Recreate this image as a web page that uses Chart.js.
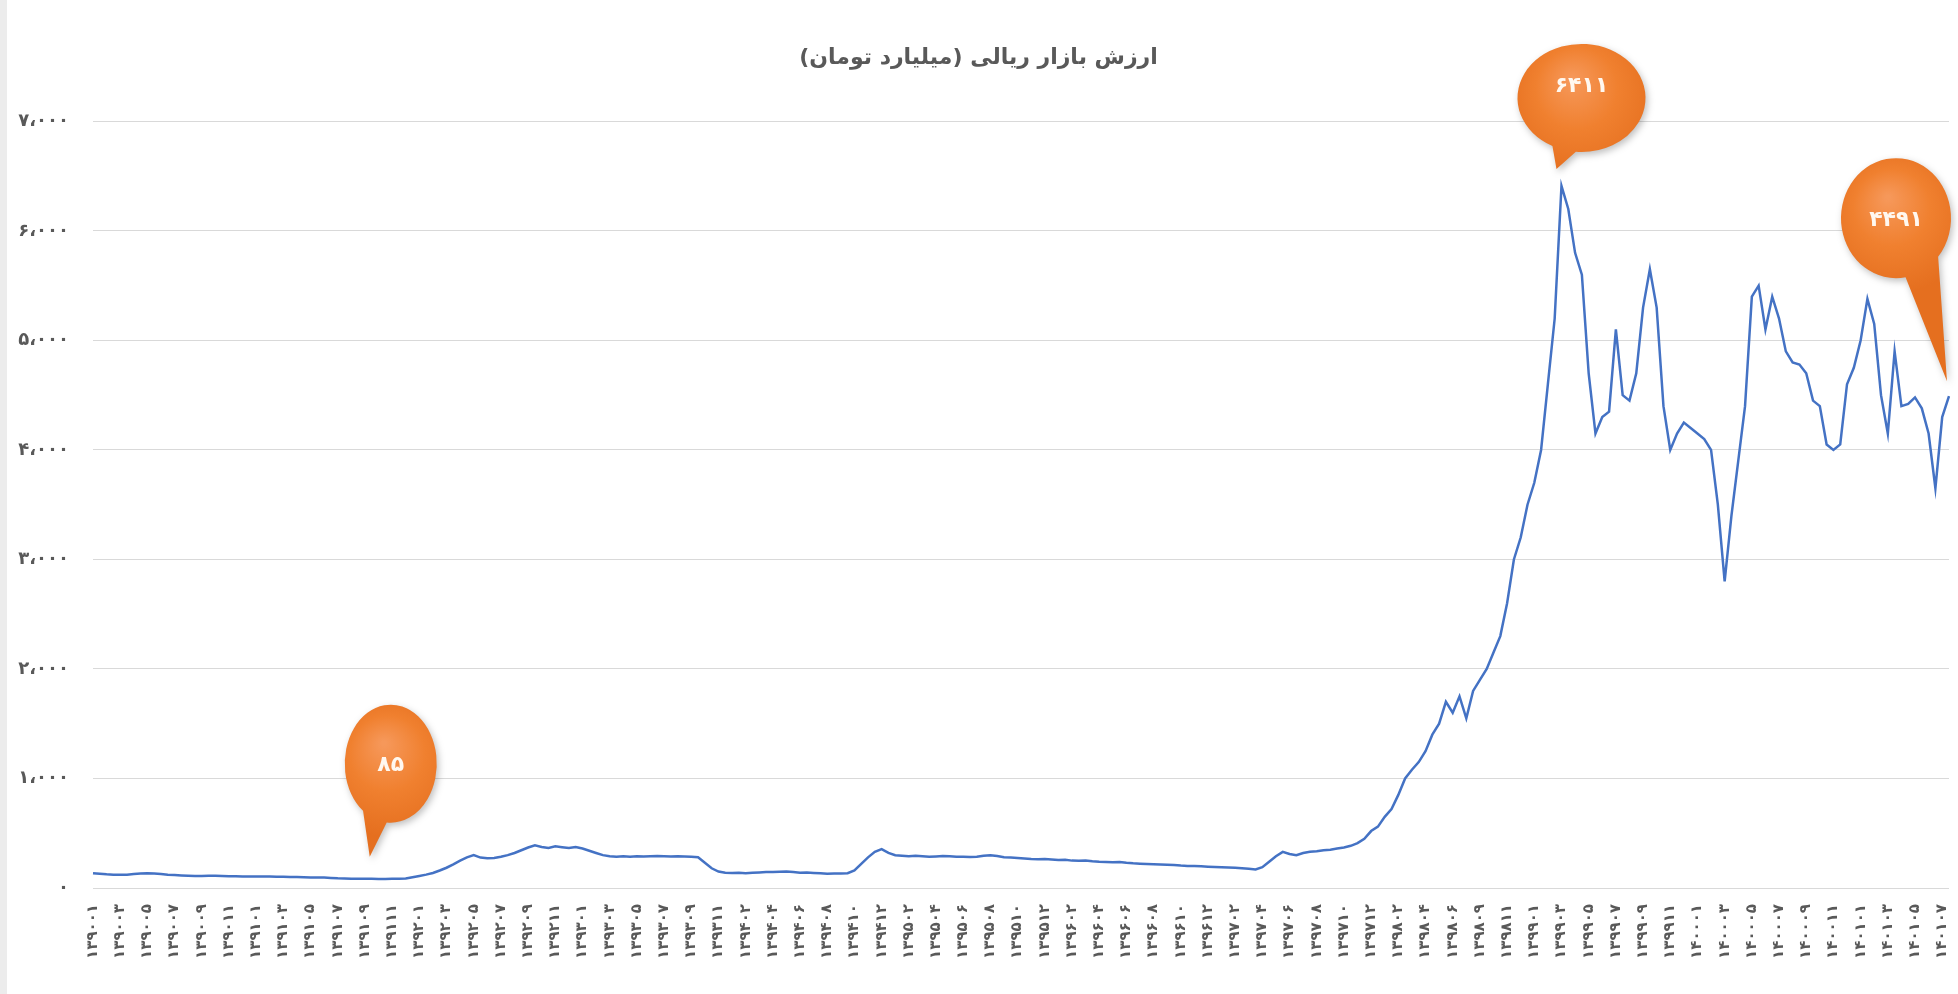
<!DOCTYPE html>
<html lang="fa">
<head>
<meta charset="utf-8">
<title>ارزش بازار ریالی</title>
<script src="https://cdn.jsdelivr.net/npm/chart.js@4.4.1/dist/chart.umd.min.js"></script>
<style>
  html, body { margin: 0; padding: 0; background: #ececec; overflow: hidden; }
  .wrap { position: absolute; left: 7px; top: 0; width: 1951px; height: 994px; background: #fff; }
</style>
</head>
<body>
<div class="wrap"><canvas id="marketChart" width="1951" height="994"></canvas></div>
<script>
const chartTitle = 'ارزش بازار ریالی (میلیارد تومان)';

// one label every 4 points
const xTicks = [
  '۱۳۹۰۰۱','۱۳۹۰۰۳','۱۳۹۰۰۵','۱۳۹۰۰۷','۱۳۹۰۰۹','۱۳۹۰۱۱',
  '۱۳۹۱۰۱','۱۳۹۱۰۳','۱۳۹۱۰۵','۱۳۹۱۰۷','۱۳۹۱۰۹','۱۳۹۱۱۱',
  '۱۳۹۲۰۱','۱۳۹۲۰۳','۱۳۹۲۰۵','۱۳۹۲۰۷','۱۳۹۲۰۹','۱۳۹۲۱۱',
  '۱۳۹۳۰۱','۱۳۹۳۰۳','۱۳۹۳۰۵','۱۳۹۳۰۷','۱۳۹۳۰۹','۱۳۹۳۱۱',
  '۱۳۹۴۰۲','۱۳۹۴۰۴','۱۳۹۴۰۶','۱۳۹۴۰۸','۱۳۹۴۱۰','۱۳۹۴۱۲',
  '۱۳۹۵۰۲','۱۳۹۵۰۴','۱۳۹۵۰۶','۱۳۹۵۰۸','۱۳۹۵۱۰','۱۳۹۵۱۲',
  '۱۳۹۶۰۲','۱۳۹۶۰۴','۱۳۹۶۰۶','۱۳۹۶۰۸','۱۳۹۶۱۰','۱۳۹۶۱۲',
  '۱۳۹۷۰۲','۱۳۹۷۰۴','۱۳۹۷۰۶','۱۳۹۷۰۸','۱۳۹۷۱۰','۱۳۹۷۱۲',
  '۱۳۹۸۰۲','۱۳۹۸۰۴','۱۳۹۸۰۶','۱۳۹۸۰۹','۱۳۹۸۱۱',
  '۱۳۹۹۰۱','۱۳۹۹۰۳','۱۳۹۹۰۵','۱۳۹۹۰۷','۱۳۹۹۰۹','۱۳۹۹۱۱',
  '۱۴۰۰۰۱','۱۴۰۰۰۳','۱۴۰۰۰۵','۱۴۰۰۰۷','۱۴۰۰۰۹','۱۴۰۰۱۱',
  '۱۴۰۱۰۱','۱۴۰۱۰۳','۱۴۰۱۰۵','۱۴۰۱۰۷'
];

const yTicks = ['۰','۱،۰۰۰','۲،۰۰۰','۳،۰۰۰','۴،۰۰۰','۵،۰۰۰','۶،۰۰۰','۷،۰۰۰'];

// market value, billion toman
const values = [
  135,130,125,122,120,122,128,133,135,132,
  128,122,118,115,112,110,110,112,112,110,
  108,108,106,105,105,104,104,102,102,100,
  100,98,97,96,95,92,88,86,85,85,
  84,85,83,83,84,84,86,98,110,122,
  137,160,185,215,250,280,300,278,272,275,
  285,300,320,345,370,390,375,365,380,372,
  365,375,360,340,320,300,290,285,290,285,
  290,288,290,292,290,288,290,287,285,280,
  230,180,150,140,138,140,135,140,142,145,
  145,148,150,145,140,142,138,135,130,132,
  132,135,160,220,280,330,355,320,300,295,
  290,295,290,285,288,292,290,286,285,282,
  285,295,300,292,280,278,275,270,265,262,
  265,260,255,258,250,248,252,245,240,238,
  235,238,230,225,222,220,218,215,212,210,
  205,202,200,198,195,192,190,188,185,180,
  175,170,190,240,290,330,310,300,320,330,
  335,345,350,360,370,385,410,450,520,560,
  650,720,850,1000,1080,1150,1250,1400,1500,1700,
  1600,1750,1550,1800,1900,2000,2150,2300,2600,3000,
  3200,3500,3700,4000,4600,5200,6411,6200,5800,5600,
  4700,4150,4300,4350,5100,4500,4450,4700,5300,5650,
  5300,4400,4000,4150,4250,4200,4150,4100,4000,3500,
  2800,3400,3900,4400,5400,5500,5100,5400,5200,4900,
  4800,4780,4700,4450,4400,4050,4000,4050,4600,4750,
  5000,5380,5150,4500,4150,4900,4400,4420,4480,4380,
  4150,3650,4300,4491
];

const labels = values.map((v, i) => i % 4 === 0 ? xTicks[i / 4] : '');

// speech bubbles: which point, and where the bubble sits relative to it
const callouts = [
  { index: 41, dx: 19, dy: -115, rx: 46, ry: 59, tipDx: -2, tipDy: -22, a1: 95, a2: 127, textDy: 2 },
  { index: 216, dx: 20, dy: -88, rx: 64, ry: 54, tipDx: -5, tipDy: -17, a1: 95, a2: 117, textDy: -12 },
  { index: 273, dx: -53, dy: -178, rx: 55, ry: 60, tipDx: -2, tipDy: -15, a1: 40, a2: 80, textDy: 2 }
];

const faDigits = '۰۱۲۳۴۵۶۷۸۹';
function toFa(n) {
  return String(n).replace(/[0-9]/g, d => faDigits[d]);
}

const calloutPlugin = {
  id: 'callouts',
  afterDatasetsDraw(chart) {
    const c = chart.ctx;
    const sx = chart.scales.x, sy = chart.scales.y;
    callouts.forEach(b => {
      const px = sx.getPixelForValue(b.index);
      const py = sy.getPixelForValue(values[b.index]);
      const cx = px + b.dx, cy = py + b.dy;
      const tx = px + b.tipDx, ty = py + b.tipDy;
      const a1 = b.a1 * Math.PI / 180, a2 = b.a2 * Math.PI / 180;

      c.save();
      const g = c.createRadialGradient(cx - b.rx * 0.15, cy - b.ry * 0.35, 2, cx, cy, Math.max(b.rx, b.ry) * 1.25);
      g.addColorStop(0, '#F6985A');
      g.addColorStop(0.5, '#F0802F');
      g.addColorStop(1, '#E56F1F');
      c.shadowColor = 'rgba(0,0,0,0.25)';
      c.shadowBlur = 7;
      c.shadowOffsetX = 2;
      c.shadowOffsetY = 3;
      c.fillStyle = g;
      c.beginPath();
      c.moveTo(tx, ty);
      c.lineTo(cx + b.rx * Math.cos(a2), cy + b.ry * Math.sin(a2));
      c.ellipse(cx, cy, b.rx, b.ry, 0, a2, a1 + Math.PI * 2, false);
      c.closePath();
      c.fill();
      c.restore();

      c.save();
      c.fillStyle = '#fff8f0';
      c.font = 'bold 22px "DejaVu Sans"';
      c.textAlign = 'center';
      c.textBaseline = 'middle';
      c.fillText(toFa(values[b.index]), cx, cy + b.textDy);
      c.restore();
    });
  }
};

const ctx = document.getElementById('marketChart').getContext('2d');
const marketChart = new Chart(ctx, {
  type: 'line',
  data: {
    labels: labels,
    datasets: [{
      label: 'ارزش بازار',
      data: values,
      borderColor: '#4472C4',
      borderWidth: 2.5,
      pointRadius: 0,
      tension: 0,
      fill: false
    }]
  },
  options: {
    responsive: false,
    animation: false,
    layout: { padding: { left: 1, right: 9, top: 0, bottom: 0 } },
    plugins: {
      legend: { display: false },
      tooltip: { enabled: false },
      title: {
        display: true,
        text: chartTitle + '\u200F',
        color: '#595959',
        font: { family: 'DejaVu Sans', size: 22, weight: 'bold' },
        padding: { top: 45, bottom: 50 }
      }
    },
    scales: {
      x: {
        grid: { display: false, drawTicks: false },
        border: { display: false },
        ticks: {
          autoSkip: false,
          minRotation: 90,
          maxRotation: 90,
          padding: 16,
          color: '#595959',
          font: { family: 'DejaVu Sans', size: 15, weight: 'bold' },
          callback: function (value, index) {
            return index % 4 === 0 ? xTicks[index / 4] : null;
          }
        },
        afterFit: function (scale) {
          scale.height = 106;
          scale.paddingLeft = 0;
          scale.paddingRight = 0;
        }
      },
      y: {
        min: 0,
        max: 7000,
        ticks: {
          stepSize: 1000,
          padding: 24,
          color: '#595959',
          font: { family: 'DejaVu Sans', size: 18, weight: 'bold' },
          callback: function (value) { return yTicks[value / 1000]; }
        },
        grid: { color: '#d9d9d9', drawTicks: false },
        border: { display: false },
        afterFit: function (scale) { scale.width = 85; }
      }
    }
  },
  plugins: [calloutPlugin]
});
</script>
</body>
</html>
